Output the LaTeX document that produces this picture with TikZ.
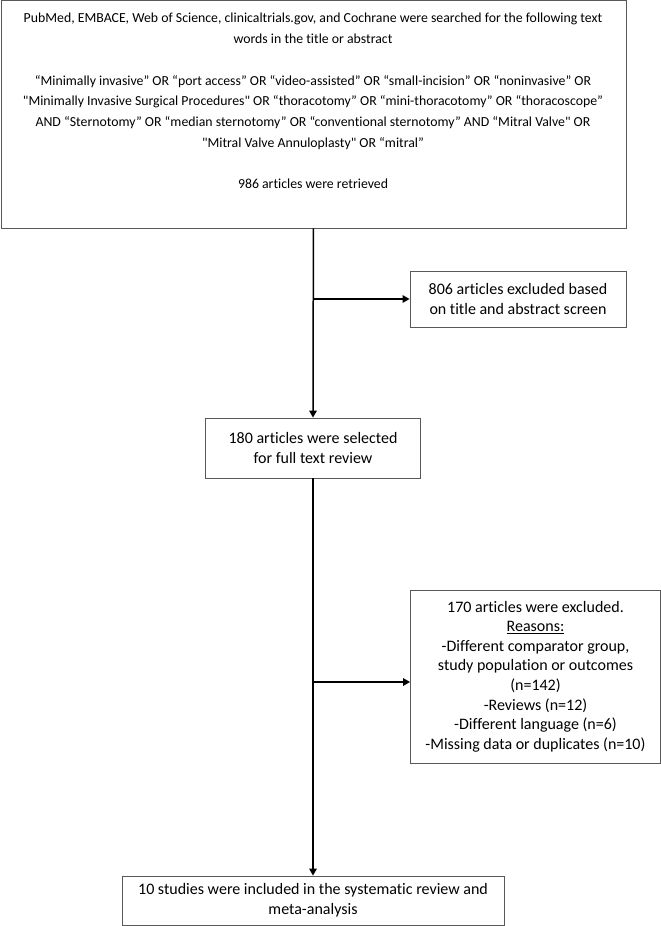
\documentclass[tikz,border=0pt]{standalone}
\usepackage{fontspec}
\setmainfont{Carlito}[Ligatures={TeXOff,CommonOff}]
\usetikzlibrary{arrows.meta}

\begin{document}
\begin{tikzpicture}[x=1pt,y=-1pt]
  \useasboundingbox (0,0) rectangle (661,926);

  % Define styles for consistent boxes and arrows
  \tikzset{
    flowbox/.style={draw=black!65, line width=0.8pt, align=center, inner sep=0pt,
      font=\fontsize{16}{19.6}\selectfont},
    flowline/.style={line width=1.5pt, black},
    flowarrow/.style={flowline, -{Triangle[length=7pt,width=7.5pt]}}
  }

  % Draw the boxes
  \node[flowbox, minimum width=625pt, minimum height=227pt, anchor=north west] (search) at (0.5,0.5) {};
  \node[align=center, inner sep=0pt, anchor=north, font=\fontsize{13.8}{20.75}\selectfont] (searchtext) at (313,13) {%
    PubMed, EMBACE, Web of Science, clinicaltrials.gov, and Cochrane were searched for the following text\\
    words in the title or abstract\\[20.75pt]
    “Minimally invasive” OR “port access” OR “video-assisted” OR “small-incision” OR “noninvasive” OR\\
    "Minimally Invasive Surgical Procedures" OR “thoracotomy” OR “mini-thoracotomy” OR “thoracoscope”\\
    AND “Sternotomy” OR “median sternotomy” OR “conventional sternotomy” AND “Mitral Valve" OR\\
    "Mitral Valve Annuloplasty" OR “mitral”\\[20.75pt]
    986 articles were retrieved};
  \node[flowbox, minimum width=216pt, minimum height=56pt] (excl1) at (518,299)
    {806 articles excluded based\\on title and abstract screen};
  \node[flowbox, minimum width=215pt, minimum height=60pt] (sel) at (313,448)
    {180 articles were selected\\for full text review};
  \node[flowbox, minimum width=250pt, minimum height=173pt] (excl2) at (535.5,676.5)
    {170 articles were excluded.\\\underline{Reasons:}\\-Different comparator group,\\study population or outcomes\\(n=142)\\-Reviews (n=12)\\-Different language (n=6)\\-Missing data or duplicates (n=10)};
  \node[flowbox, minimum width=382pt, minimum height=49pt] (incl) at (313,900.5)
    {10 studies were included in the systematic review and\\meta-analysis};

  % Draw the arrows between the boxes
  \coordinate (split1) at (search.south |- excl1.west);
  \coordinate (split2) at (313,682);
  \draw[flowarrow] (search.south) -- (sel.north);
  \draw[flowarrow] (split1) -- (excl1.west);
  \draw[flowarrow] (sel.south) -- (incl.north);
  \draw[flowarrow] (split2) -- (split2 -| excl2.west);

\end{tikzpicture}
\end{document}
